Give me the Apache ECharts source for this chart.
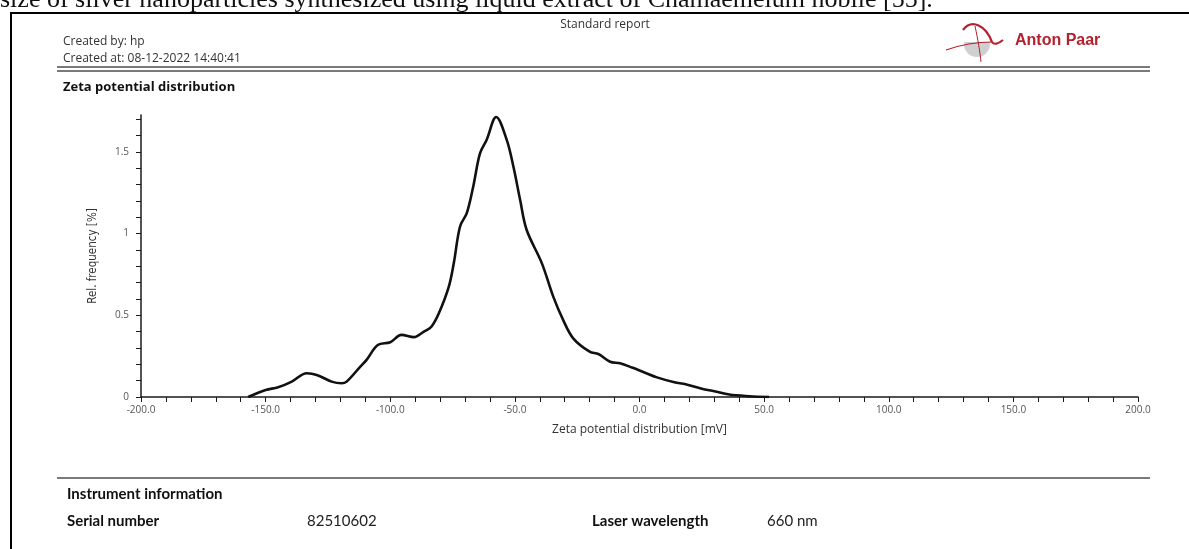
<!DOCTYPE html>
<html>
<head>
<meta charset="utf-8">
<title>Zeta potential distribution</title>
<script src="https://cdn.jsdelivr.net/npm/echarts@6/dist/echarts.min.js"></script>
<style>
  html, body { margin: 0; padding: 0; background: #ffffff; }
  #chart { width: 1189px; height: 549px; }
</style>
</head>
<body>
<div id="chart"></div>
<script>
// Zeta potential [mV] and relative frequency [%] of the measured distribution
const zetaPotential = [-157, -150, -145, -139.5, -133.5, -129.5, -123.5, -119.5, -117.5, -112, -109.5, -105, -100,
  -95.5, -90.5, -86.5, -83.5, -80.5, -76.5, -74.5, -72, -69.3, -66.7, -64, -61.3, -57.5, -53.3, -50.6,
  -47.9, -45.3, -39.2, -34.6, -30.6, -26.6, -20, -16.5, -11.8, -7.8, -3, 2, 7, 14, 18.5, 25, 30, 36, 44, 52];
const relFrequency = [0, 0.043, 0.059, 0.094, 0.145, 0.135, 0.094, 0.084, 0.094, 0.186, 0.227, 0.318, 0.335,
  0.38, 0.366, 0.40, 0.43, 0.512, 0.675, 0.819, 1.043, 1.125, 1.288, 1.49, 1.574, 1.713, 1.574, 1.41,
  1.206, 1.023, 0.819, 0.614, 0.47, 0.359, 0.277, 0.263, 0.216, 0.206, 0.18, 0.15, 0.12, 0.09, 0.078, 0.05, 0.035, 0.015, 0.005, 0];

// Axis labels
const xTickLabels = [-200, -150, -100, -50, 0, 50, 100, 150, 200];
const yTickLabels = [0, 0.5, 1, 1.5];

// Report header and footer texts
const captionText = 'size of silver nanoparticles synthesized using liquid extract of Chamaemelum nobile [55].';
const reportTitle = 'Standard report';
const createdBy = 'Created by: hp';
const createdAt = 'Created at: 08-12-2022 14:40:41';
const sectionTitle = 'Zeta potential distribution';
const xAxisTitle = 'Zeta potential distribution [mV]';
const yAxisTitle = 'Rel. frequency [%]';
const instrumentTitle = 'Instrument information';
const serialLabel = 'Serial number';
const serialValue = '82510602';
const laserLabel = 'Laser wavelength';
const laserValue = '660 nm';
const brandName = 'Anton Paar';

// Minor ticks every 10 mV and every 0.1 %
const xMinorTicks = [];
for (let v = -200; v <= 200; v += 10) xMinorTicks.push(v);
const yMinorTicks = [];
for (let i = 0; i <= 17; i++) yMinorTicks.push(+(i * 0.1).toFixed(1));

const curve = zetaPotential.map((x, i) => [x, relFrequency[i]]);

const chart = echarts.init(document.getElementById('chart'), null, { renderer: 'canvas' });

const sans = '"Open Sans", "Noto Sans", sans-serif';
const narrow = 'Lato, "Open Sans", sans-serif';
const brandRed = '#b3202e';

chart.setOption({
  animation: false,
  backgroundColor: '#ffffff',
  grid: { left: 141, right: 51, top: 115, bottom: 152 },
  xAxis: {
    type: 'value',
    min: -200,
    max: 200,
    interval: 10,
    name: xAxisTitle,
    nameLocation: 'middle',
    nameGap: 27,
    nameTextStyle: { fontFamily: sans, fontSize: 12, color: '#333' },
    splitLine: { show: false },
    axisLine: { show: true, onZero: false, lineStyle: { color: '#1a1a1a', width: 1.5 } },
    axisTick: { show: true, length: 5, customValues: xMinorTicks, lineStyle: { color: '#1a1a1a', width: 1 } },
    axisLabel: {
      customValues: xTickLabels,
      formatter: v => v.toFixed(1),
      fontFamily: sans,
      fontSize: 10,
      color: '#555',
      margin: 8
    }
  },
  yAxis: {
    type: 'value',
    min: 0,
    max: 1.725,
    name: yAxisTitle,
    nameLocation: 'middle',
    nameGap: 42,
    nameTextStyle: { fontFamily: '"DejaVu Sans Condensed", "Liberation Sans Narrow", sans-serif', fontSize: 11.5, color: '#333' },
    splitLine: { show: false },
    axisLine: { show: true, onZero: false, lineStyle: { color: '#1a1a1a', width: 1.5 } },
    axisTick: { show: true, length: 5, customValues: yMinorTicks, lineStyle: { color: '#1a1a1a', width: 1 } },
    axisLabel: {
      customValues: yTickLabels,
      formatter: v => String(v),
      fontFamily: sans,
      fontSize: 10,
      color: '#555',
      margin: 12
    }
  },
  series: [{
    type: 'line',
    data: curve,
    smooth: 0.35,
    showSymbol: false,
    lineStyle: { color: '#111', width: 2.6 },
    silent: true
  }],
  graphic: [
    // cut-off caption line above the report
    { type: 'text', left: 0, top: -13, silent: true,
      style: { text: captionText, fontFamily: '"Liberation Serif", "DejaVu Serif", serif', fontSize: 26, fill: '#111' } },
    // report frame
    { type: 'rect', shape: { x: 10, y: 12, width: 1179, height: 2 }, style: { fill: '#000' }, silent: true },
    { type: 'rect', shape: { x: 10, y: 12, width: 2, height: 537 }, style: { fill: '#000' }, silent: true },
    // header
    { type: 'text', x: 605, y: 25, silent: true,
      style: { text: reportTitle, fontFamily: sans, fontSize: 12, fill: '#333', align: 'center', verticalAlign: 'middle' } },
    { type: 'text', x: 63, y: 42, silent: true,
      style: { text: createdBy, fontFamily: sans, fontSize: 12, fill: '#333', verticalAlign: 'middle' } },
    { type: 'text', x: 63, y: 59, silent: true,
      style: { text: createdAt, fontFamily: sans, fontSize: 12, fill: '#333', verticalAlign: 'middle' } },
    { type: 'rect', shape: { x: 57, y: 66, width: 1093, height: 2 }, style: { fill: '#7a7a7a' }, silent: true },
    { type: 'rect', shape: { x: 57, y: 70, width: 1093, height: 2 }, style: { fill: '#7a7a7a' }, silent: true },
    // brand mark: grey globe with red orbit swooshes
    { type: 'circle', shape: { cx: 977, cy: 44, r: 13 }, style: { fill: '#cfcfcf' }, silent: true },
    { type: 'rect', shape: { x: 962, y: 28, width: 30, height: 14 }, style: { fill: '#ffffff' }, silent: true },
    { type: 'bezierCurve', silent: true,
      shape: { x1: 963, y1: 30, cpx1: 972, cpy1: 18, cpx2: 986, cpy2: 26, x2: 992, y2: 42 },
      style: { stroke: brandRed, lineWidth: 2.2, fill: null } },
    { type: 'bezierCurve', silent: true,
      shape: { x1: 992, y1: 42, cpx1: 994, cpy1: 45, cpx2: 998, cpy2: 44, x2: 1003, y2: 40 },
      style: { stroke: brandRed, lineWidth: 2.2, fill: null } },
    { type: 'bezierCurve', silent: true,
      shape: { x1: 946, y1: 50, cpx1: 960, cpy1: 45, cpx2: 975, cpy2: 42, x2: 992, y2: 42 },
      style: { stroke: brandRed, lineWidth: 1.2, fill: null } },
    { type: 'bezierCurve', silent: true,
      shape: { x1: 975, y1: 26, cpx1: 978, cpy1: 40, cpx2: 980, cpy2: 52, x2: 981, y2: 62 },
      style: { stroke: brandRed, lineWidth: 1, fill: null } },
    { type: 'text', x: 1015, y: 41, silent: true,
      style: { text: brandName, fontFamily: '"Liberation Sans", Arial, sans-serif', fontWeight: 'bold', fontSize: 16, fill: brandRed, verticalAlign: 'middle' } },
    // section title
    { type: 'text', x: 63, y: 87, silent: true,
      style: { text: sectionTitle, fontFamily: sans, fontWeight: 'bold', fontSize: 13, fill: '#111', verticalAlign: 'middle' } },
    // footer
    { type: 'rect', shape: { x: 57, y: 477, width: 1093, height: 2 }, style: { fill: '#7a7a7a' }, silent: true },
    { type: 'text', x: 67, y: 494, silent: true,
      style: { text: instrumentTitle, fontFamily: narrow, fontWeight: 'bold', fontSize: 15, fill: '#111', verticalAlign: 'middle' } },
    { type: 'text', x: 67, y: 521, silent: true,
      style: { text: serialLabel, fontFamily: narrow, fontWeight: 'bold', fontSize: 15, fill: '#111', verticalAlign: 'middle' } },
    { type: 'text', x: 307, y: 521, silent: true,
      style: { text: serialValue, fontFamily: narrow, fontSize: 15, fill: '#222', verticalAlign: 'middle' } },
    { type: 'text', x: 592, y: 521, silent: true,
      style: { text: laserLabel, fontFamily: narrow, fontWeight: 'bold', fontSize: 15, fill: '#111', verticalAlign: 'middle' } },
    { type: 'text', x: 767, y: 521, silent: true,
      style: { text: laserValue, fontFamily: narrow, fontSize: 15, fill: '#222', verticalAlign: 'middle' } }
  ]
});
</script>
</body>
</html>
